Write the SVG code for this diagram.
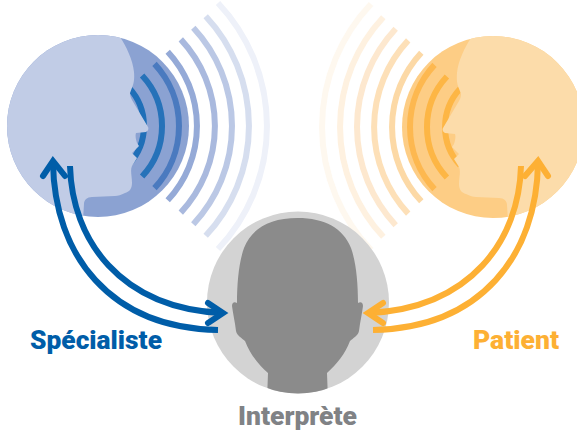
<svg xmlns="http://www.w3.org/2000/svg" xmlns:xlink="http://www.w3.org/1999/xlink" width="577" height="436" viewBox="0 0 577 436">
<style>
.arc{fill:none;stroke-width:6}
.conn{fill:none;stroke-width:6}
.blue{stroke:#005da8}
.orange{stroke:#fdb034}
.label{font-family:Roboto,"Liberation Sans",Arial,sans-serif;font-weight:900}
</style>
<defs>
<clipPath id="clipL"><circle cx="98" cy="126" r="91"/></clipPath>
<clipPath id="clipI"><circle cx="298" cy="302.5" r="91"/></clipPath>
<path id="r1" class="arc" d="M40.9,-38.2A56,56 0 0 1 40.9,38.2"/>
<path id="r2" class="arc" d="M54.1,-50.5A74,74 0 0 1 54.1,50.5"/>
<path id="r3" class="arc" d="M66.5,-62.1A91,91 0 0 1 66.5,62.1"/>
<path id="r4" class="arc" d="M79.7,-74.3A109,109 0 0 1 79.7,74.3"/>
<path id="r5" class="arc" d="M92.8,-86.6A127,127 0 0 1 92.8,86.6"/>
<path id="r6" class="arc" d="M105.3,-98.2A144,144 0 0 1 105.3,98.2"/>
<path id="r7" class="arc" d="M117.7,-109.8A161,161 0 0 1 117.7,109.8"/>
<path id="r8" class="arc" d="M130,-123A179,179 0 0 1 130,123"/>
<path id="face" d="M120,30L120,37C126,46 133,60 134,72C134.500,78 134,82 133,85L130,93C130,96 131,98 132,100L148,127C149,129 148,131 146,132L136,133C135,136 136,140 137,143L139,146L132,153L137,158L132,166C130,170 132,176 132,183C132,189 129,192 125,193C121,195 118,196 115,196L92,197C87,197 84,200 84,204L83,220L0,220L0,30Z"/>
</defs>
<g id="specialiste">
<circle cx="98" cy="126" r="91" fill="#8ba2d2"/>
<g transform="translate(88,126)">
<use href="#r1" stroke="#1f6fb8"/>
<use href="#r2" stroke="#2672b9"/>
<use href="#r3" stroke="#4a7abf"/>
<use href="#r4" stroke="#95aad7"/>
<use href="#r5" stroke="#a9b9de"/>
<use href="#r6" stroke="#bbc8e5"/>
<use href="#r7" stroke="#d6deef"/>
<use href="#r8" stroke="#eef1f9"/>
</g>
<use href="#face" fill="#c1cce6" clip-path="url(#clipL)"/>
</g>
<g id="patient">
<circle cx="493" cy="127" r="91" fill="#fdcd85"/>
<g transform="translate(501,127) scale(-1,1)">
<use href="#r1" stroke="#fdb645"/>
<use href="#r2" stroke="#fdb645"/>
<use href="#r3" stroke="#fdb850"/>
<use href="#r4" stroke="#fcd9a6"/>
<use href="#r5" stroke="#fde0b8"/>
<use href="#r6" stroke="#fde8cf"/>
<use href="#r7" stroke="#fef1e0"/>
<use href="#r8" stroke="#fef8ef"/>
</g>
<g transform="translate(591,1) scale(-1,1)">
<use href="#face" fill="#fcdcaa" clip-path="url(#clipL)"/>
</g>
</g>
<g id="interprete">
<circle cx="298" cy="302.500" r="91" fill="#d3d3d3"/>
<path clip-path="url(#clipI)" fill="#8b8b8b" d="M297.500,218C270,218 252,228 244,248C239,262 237,282 237,303C234,301 232,303 232,306C233,314 235,322 236,331C237,336 242,338 245,341C250,354 258,364 268,373L267,400L328,400L327,373C337,364 345,354 350,341C353,338 358,336 359,331C360,322 362,314 363,306C363,303 361,301 358,303C358,282 356,262 351,248C343,228 325,218 297.500,218Z"/>
</g>
<g id="connectors">
<path class="conn blue" d="M70,166C72,240 120,308 222,313"/>
<path class="conn blue" d="M53,162C54,255 110,328 218,330"/>
<path class="conn blue" d="M43,176L53,161L65,176" stroke-linecap="round"/>
<path class="conn blue" d="M208,303L223,313L208,323" stroke-linecap="round"/>
<path class="conn orange" d="M521,166C519,240 471,308 369,313"/>
<path class="conn orange" d="M538,162C537,255 481,328 373,330"/>
<path class="conn orange" d="M525,176L538,161L548,176" stroke-linecap="round"/>
<path class="conn orange" d="M383,303L368,313L383,323" stroke-linecap="round"/>
</g>
<g id="labels">
<text class="label" x="30" y="349" font-size="26" fill="#005da8" textLength="132" lengthAdjust="spacingAndGlyphs">Spécialiste</text>
<text class="label" x="473" y="349" font-size="26" fill="#fdb034" textLength="86" lengthAdjust="spacingAndGlyphs">Patient</text>
<text class="label" x="238" y="425" font-size="26" fill="#808285" textLength="119" lengthAdjust="spacingAndGlyphs">Interprète</text>
</g>
</svg>
